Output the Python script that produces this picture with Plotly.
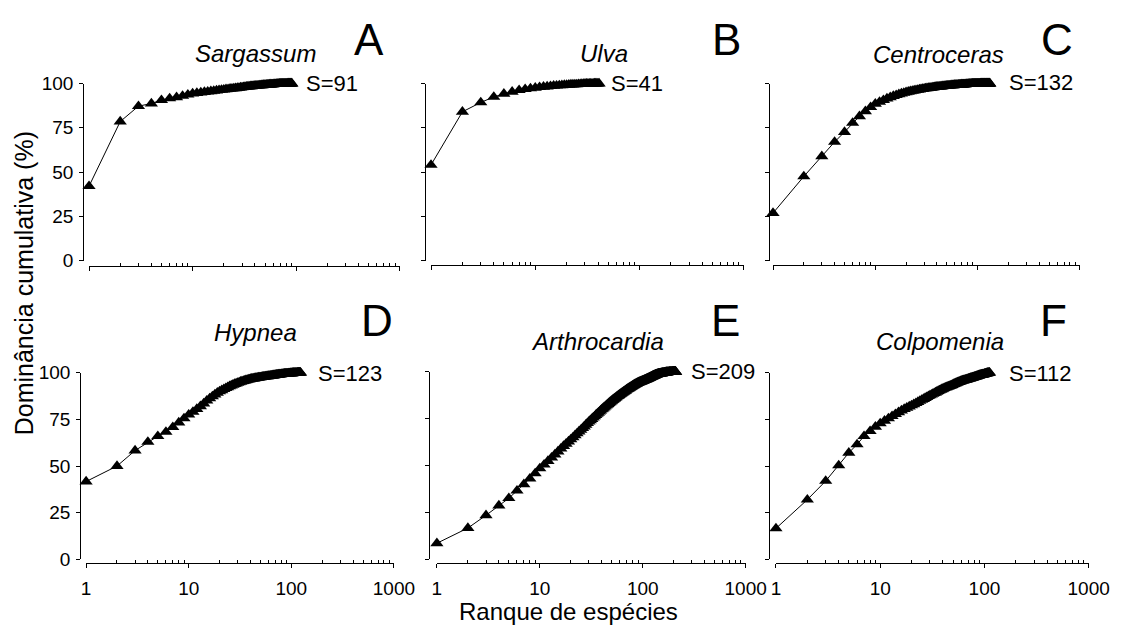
import plotly.graph_objects as go

# ---------------- data ----------------
panel_letters = ["A", "B", "C", "D", "E", "F"]
genera = ["Sargassum", "Ulva", "Centroceras", "Hypnea", "Arthrocardia", "Colpomenia"]
richness = [91, 41, 132, 123, 209, 112]

sargassum = [
    42.0, 78.5, 87.2, 88.7, 90.6, 91.6, 92.2, 93.0, 93.7, 94.3,
    94.6, 94.9, 95.2, 95.4, 95.6, 95.8, 96.0, 96.2, 96.4, 96.5,
    96.7, 96.8, 97.0, 97.1, 97.2, 97.3, 97.4, 97.5, 97.7, 97.8,
    97.9, 98.0, 98.1, 98.2, 98.3, 98.4, 98.4, 98.5, 98.6, 98.7,
    98.7, 98.8, 98.8, 98.9, 98.9, 99.0, 99.0, 99.1, 99.1, 99.2,
    99.2, 99.3, 99.3, 99.3, 99.4, 99.4, 99.4, 99.5, 99.5, 99.5,
    99.6, 99.6, 99.6, 99.6, 99.7, 99.7, 99.7, 99.7, 99.8, 99.8,
    99.8, 99.8, 99.8, 99.9, 99.9, 99.9, 99.9, 99.9, 99.9, 99.9,
    99.9, 99.9, 100.0, 100.0, 100.0, 100.0, 100.0, 100.0, 100.0, 100.0, 100.0,
]
ulva = [
    54.0, 84.0, 89.3, 92.4, 94.2, 95.3, 96.2, 96.8, 97.2, 97.6,
    97.9, 98.1, 98.3, 98.5, 98.7, 98.8, 98.9, 99.0, 99.1, 99.2,
    99.3, 99.4, 99.4, 99.5, 99.5, 99.6, 99.6, 99.7, 99.7, 99.8,
    99.8, 99.8, 99.9, 99.9, 99.9, 99.9, 100.0, 100.0, 100.0, 100.0, 100.0,
]
centroceras = [
    26.8, 47.5, 58.9, 67.0, 72.6, 77.7, 81.5, 84.3, 86.6, 88.5,
    89.6, 90.6, 91.5, 92.2, 92.9, 93.4, 93.9, 94.3, 94.7, 95.0,
    95.3, 95.6, 95.8, 96.0, 96.2, 96.4, 96.6, 96.8, 96.9, 97.1,
    97.2, 97.3, 97.4, 97.5, 97.6, 97.7, 97.8, 97.9, 98.0, 98.1,
    98.1, 98.2, 98.3, 98.3, 98.4, 98.5, 98.5, 98.6, 98.6, 98.7,
    98.7, 98.8, 98.8, 98.9, 98.9, 99.0, 99.0, 99.0, 99.1, 99.1,
    99.1, 99.2, 99.2, 99.2, 99.3, 99.3, 99.3, 99.3, 99.4, 99.4,
    99.4, 99.4, 99.5, 99.5, 99.5, 99.5, 99.6, 99.6, 99.6, 99.6,
    99.6, 99.7, 99.7, 99.7, 99.7, 99.7, 99.7, 99.8, 99.8, 99.8,
    99.8, 99.8, 99.8, 99.8, 99.9, 99.9, 99.9, 99.9, 99.9, 99.9,
    99.9, 99.9, 99.9, 99.9, 99.9, 99.9, 100.0, 100.0, 100.0, 100.0,
    100.0, 100.0, 100.0, 100.0, 100.0, 100.0, 100.0, 100.0, 100.0, 100.0,
    100.0, 100.0, 100.0, 100.0, 100.0, 100.0, 100.0, 100.0, 100.0, 100.0, 100.0, 100.0,
]
hypnea = [
    41.7, 50.0, 58.3, 62.9, 66.0, 68.3, 70.8, 73.3, 75.5, 77.5,
    79.0, 80.5, 82.0, 83.5, 85.0, 86.2, 87.3, 88.3, 89.2, 90.0,
    90.6, 91.2, 91.7, 92.2, 92.7, 93.1, 93.5, 93.9, 94.2, 94.5,
    94.8, 95.1, 95.3, 95.5, 95.7, 95.9, 96.1, 96.3, 96.4, 96.6,
    96.7, 96.8, 96.9, 97.0, 97.1, 97.2, 97.3, 97.4, 97.5, 97.5,
    97.6, 97.7, 97.8, 97.8, 97.9, 98.0, 98.0, 98.1, 98.1, 98.2,
    98.3, 98.3, 98.4, 98.4, 98.5, 98.5, 98.6, 98.6, 98.7, 98.8,
    98.8, 98.9, 98.9, 98.9, 99.0, 99.0, 99.1, 99.1, 99.1, 99.2,
    99.2, 99.2, 99.3, 99.3, 99.3, 99.4, 99.4, 99.4, 99.4, 99.5,
    99.5, 99.5, 99.5, 99.6, 99.6, 99.6, 99.6, 99.7, 99.7, 99.7,
    99.7, 99.7, 99.8, 99.8, 99.8, 99.8, 99.8, 99.9, 99.9, 99.9,
    99.9, 99.9, 99.9, 99.9, 100.0, 100.0, 100.0, 100.0, 100.0, 100.0, 100.0, 100.0, 100.0,
]
arthrocardia = [
    8.6, 16.7, 23.5, 28.7, 32.6, 36.6, 40.0, 43.0, 45.8, 48.5,
    50.5, 52.4, 54.2, 55.9, 57.5, 59.0, 60.4, 61.6, 62.8, 63.9,
    65.0, 66.1, 67.1, 68.1, 69.0, 69.9, 70.8, 71.7, 72.6, 73.4,
    74.1, 74.8, 75.5, 76.2, 76.9, 77.5, 78.1, 78.7, 79.3, 79.9,
    80.4, 80.9, 81.4, 81.9, 82.4, 82.8, 83.3, 83.7, 84.1, 84.5,
    84.9, 85.3, 85.6, 86.0, 86.3, 86.7, 87.0, 87.3, 87.6, 87.9,
    88.2, 88.5, 88.7, 89.0, 89.3, 89.5, 89.8, 90.0, 90.3, 90.6,
    90.8, 91.0, 91.2, 91.4, 91.6, 91.8, 92.0, 92.2, 92.4, 92.6,
    92.8, 92.9, 93.1, 93.3, 93.4, 93.6, 93.7, 93.9, 94.0, 94.2,
    94.3, 94.4, 94.5, 94.6, 94.7, 94.8, 94.9, 95.0, 95.1, 95.2,
    95.3, 95.4, 95.5, 95.6, 95.7, 95.8, 95.9, 96.0, 96.1, 96.2,
    96.3, 96.4, 96.5, 96.6, 96.7, 96.8, 96.9, 97.0, 97.1, 97.2,
    97.3, 97.4, 97.5, 97.6, 97.7, 97.8, 97.9, 98.0, 98.0, 98.1,
    98.2, 98.3, 98.4, 98.4, 98.5, 98.6, 98.6, 98.7, 98.7, 98.8,
    98.8, 98.9, 98.9, 98.9, 99.0, 99.0, 99.0, 99.1, 99.1, 99.1,
    99.2, 99.2, 99.2, 99.3, 99.3, 99.3, 99.4, 99.4, 99.4, 99.4,
    99.5, 99.5, 99.5, 99.5, 99.6, 99.6, 99.6, 99.6, 99.7, 99.7,
    99.7, 99.7, 99.7, 99.8, 99.8, 99.8, 99.8, 99.8, 99.8, 99.9,
    99.9, 99.9, 99.9, 99.9, 99.9, 99.9, 99.9, 99.9, 99.9, 99.9,
    99.9, 99.9, 99.9, 99.9, 100.0, 100.0, 100.0, 100.0, 100.0, 100.0,
    100.0, 100.0, 100.0, 100.0, 100.0, 100.0, 100.0, 100.0, 100.0,
]
colpomenia = [
    16.6, 32.0, 42.0, 50.3, 57.1, 61.6, 66.0, 68.7, 71.0, 72.8,
    74.2, 75.5, 76.7, 77.8, 78.8, 79.7, 80.5, 81.2, 81.9, 82.5,
    83.1, 83.7, 84.3, 84.9, 85.4, 85.9, 86.4, 86.9, 87.4, 87.8,
    88.2, 88.6, 89.0, 89.4, 89.8, 90.2, 90.5, 90.8, 91.1, 91.4,
    91.7, 92.0, 92.2, 92.4, 92.6, 92.8, 93.0, 93.2, 93.4, 93.7,
    93.9, 94.1, 94.3, 94.5, 94.7, 94.9, 95.0, 95.2, 95.4, 95.5,
    95.7, 95.8, 95.9, 96.0, 96.1, 96.2, 96.3, 96.4, 96.5, 96.7,
    96.8, 96.9, 97.0, 97.1, 97.2, 97.3, 97.4, 97.5, 97.6, 97.7,
    97.8, 97.9, 98.0, 98.1, 98.2, 98.3, 98.4, 98.5, 98.6, 98.7,
    98.8, 98.8, 98.9, 98.9, 99.0, 99.0, 99.1, 99.1, 99.2, 99.3,
    99.4, 99.5, 99.5, 99.6, 99.7, 99.7, 99.8, 99.8, 99.9, 99.9, 100.0, 100.0,
]
series = [sargassum, ulva, centroceras, hypnea, arthrocardia, colpomenia]

x_tick_vals = [1, 10, 100, 1000]
x_tick_text = ["1", "10", "100", "1000"]
y_tick_vals = [0, 25, 50, 75, 100]
x_title = "Ranque de espécies"
y_title = "Dominância cumulativa (%)"

# ---------------- layout geometry (pixels) ----------------
W, H = 1137, 641
FONT = "Arial, 'Liberation Sans', sans-serif"

geom = [
    # x(1), x(1000), y-axis line x, y(100), y(0), x-axis line y
    dict(x0=86, x1=404, yax=80, ytop=76, ybot=259, xax=265),
    dict(x0=436, x1=756, yax=430, ytop=76, ybot=259, xax=264),
    dict(x0=786, x1=1100, yax=782, ytop=76, ybot=259, xax=264),
    dict(x0=83, x1=398, yax=77, ytop=375, ybot=568, xax=572),
    dict(x0=442, x1=758, yax=434, ytop=374, ybot=568, xax=572),
    dict(x0=789, x1=1109, yax=782, ytop=375, ybot=568, xax=572),
]
letter_pos = [(373, 31), (738, 31), (1077, 31), (381, 321), (737, 321), (1073, 321)]
genus_pos = [(256, 45), (613, 45), (955, 46), (256, 333), (606, 343), (957, 343)]
s_pos = [(306, 76), (618, 76), (1025, 75), (318, 376), (700, 374), (1025, 376)]


def fx(p):
    return p / W


def fy(p):
    return 1 - p / H


minor_vals = [m * d for d in (1, 10, 100) for m in range(2, 10)]

fig = go.Figure()
layout = dict(
    width=W, height=H,
    margin=dict(l=0, r=0, t=0, b=0),
    paper_bgcolor="white", plot_bgcolor="white",
    showlegend=False,
    font=dict(family=FONT, color="black"),
)
annotations = []

for i, (g, vals) in enumerate(zip(geom, series)):
    k = "" if i == 0 else str(i + 1)
    ranks = list(range(1, len(vals) + 1))
    fig.add_trace(go.Scatter(
        x=ranks, y=vals, xaxis="x" + k, yaxis="y" + k,
        mode="lines+markers",
        line=dict(color="black", width=1),
        marker=dict(symbol="triangle-up", size=11.5, color="black"),
        cliponaxis=False, hoverinfo="skip",
    ))
    bottom = i >= 3
    left = i % 3 == 0
    layout["xaxis" + k] = dict(
        type="log", range=[0, 3],
        domain=[fx(g["x0"]), fx(g["x1"])],
        anchor="free", position=fy(g["xax"]),
        showline=True, linecolor="black", linewidth=1,
        showgrid=False, zeroline=False,
        tickmode="array", tickvals=x_tick_vals, ticktext=x_tick_text,
        ticks="outside", ticklen=4, tickwidth=1, tickcolor="black",
        showticklabels=bottom, ticklabelstandoff=4,
        tickfont=dict(family=FONT, size=19, color="black"),
        minor=dict(tickmode="array", tickvals=minor_vals, ticks="inside",
                   ticklen=3, tickwidth=1, tickcolor="black", showgrid=False),
        fixedrange=True,
    )
    layout["yaxis" + k] = dict(
        range=[0, 100],
        domain=[fy(g["ybot"]), fy(g["ytop"])],
        anchor="free", position=fx(g["yax"]),
        showline=True, linecolor="black", linewidth=1,
        showgrid=False, zeroline=False,
        tickmode="array", tickvals=y_tick_vals,
        ticks="outside", ticklen=4, tickwidth=1, tickcolor="black",
        showticklabels=left, ticklabelstandoff=2,
        tickfont=dict(family=FONT, size=19, color="black"),
        fixedrange=True,
    )
    lx, ly = letter_pos[i]
    annotations.append(dict(text=panel_letters[i], x=fx(lx), y=fy(ly), xref="paper", yref="paper",
                            xanchor="center", yanchor="middle", showarrow=False,
                            font=dict(family=FONT, size=44, color="black")))
    gx, gy = genus_pos[i]
    annotations.append(dict(text="<i>" + genera[i] + "</i>", x=fx(gx), y=fy(gy), xref="paper", yref="paper",
                            xanchor="center", yanchor="middle", showarrow=False,
                            font=dict(family=FONT, size=24, color="black")))
    sx, sy = s_pos[i]
    annotations.append(dict(text="S=" + str(richness[i]), x=fx(sx), y=fy(sy), xref="paper", yref="paper",
                            xanchor="left", yanchor="middle", showarrow=False,
                            font=dict(family=FONT, size=22, color="black")))

annotations.append(dict(text=x_title, x=fx(577), y=fy(622), xref="paper", yref="paper",
                        xanchor="center", yanchor="middle", showarrow=False,
                        font=dict(family=FONT, size=24, color="black")))
annotations.append(dict(text=y_title, x=fx(19), y=fy(283), xref="paper", yref="paper",
                        xanchor="center", yanchor="middle", showarrow=False, textangle=-90,
                        font=dict(family=FONT, size=25, color="black")))
layout["annotations"] = annotations

fig.update_layout(**layout)
fig.write_html("out.html")
